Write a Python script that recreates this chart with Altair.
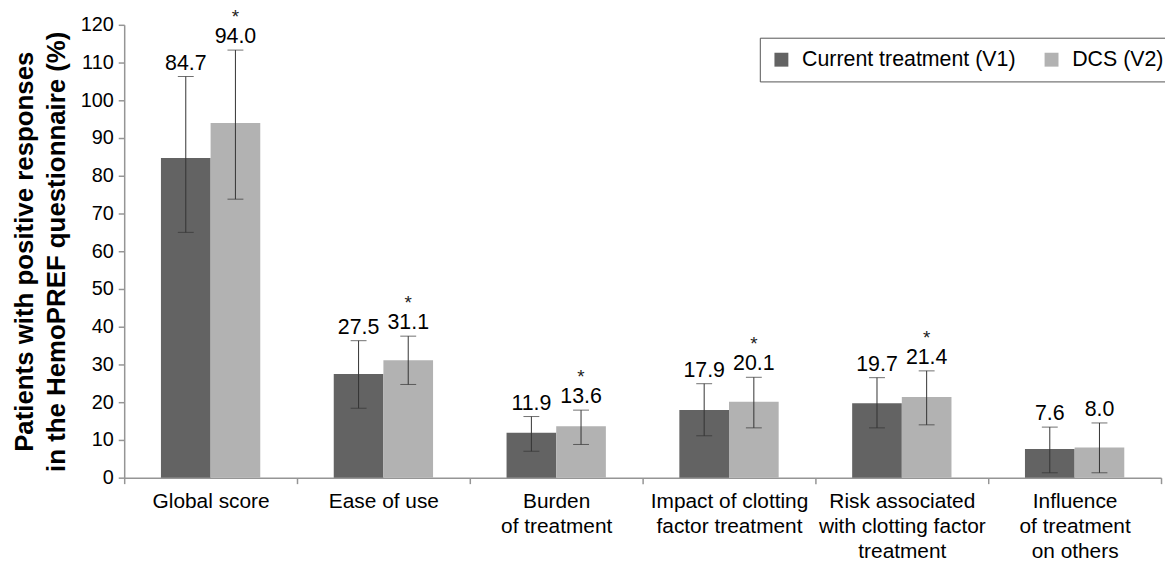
import altair as alt
import pandas as pd

categories = [
    "Global score",
    "Ease of use",
    "Burden|of treatment",
    "Impact of clotting|factor treatment",
    "Risk associated|with clotting factor|treatment",
    "Influence|of treatment|on others",
]
series = ["Current treatment (V1)", "DCS (V2)"]

v1_mean = [84.7, 27.5, 11.9, 17.9, 19.7, 7.6]
v1_low = [65.0, 18.4, 7.0, 11.1, 13.2, 1.3]
v1_high = [106.3, 36.3, 16.2, 24.9, 26.5, 13.4]

v2_mean = [94.0, 31.1, 13.6, 20.1, 21.4, 8.0]
v2_low = [73.8, 24.7, 8.8, 13.2, 14.0, 1.3]
v2_high = [113.3, 37.5, 17.9, 26.6, 28.3, 14.5]
v2_significant = [True, True, True, True, True, False]

y_ticks = list(range(0, 121, 10))

rows = []
for i, c in enumerate(categories):
    rows.append(dict(cat=c, series=series[0], mean=v1_mean[i], low=v1_low[i],
                     high=v1_high[i], star=""))
    rows.append(dict(cat=c, series=series[1], mean=v2_mean[i], low=v2_low[i],
                     high=v2_high[i], star="*" if v2_significant[i] else ""))
df = pd.DataFrame(rows)
df["label"] = df["mean"].map(lambda v: f"{v:.1f}")

FONT = "Liberation Sans"
AXIS_GREY = "#959595"
ERR = "#333333"

x = alt.X(
    "cat:N",
    sort=categories,
    scale=alt.Scale(paddingInner=0, paddingOuter=0),
    axis=alt.Axis(
        title=None, labelAngle=0, tickBand="extent",
        labelExpr="split(datum.label, '|')",
        labelFontSize=21, labelFont=FONT, labelColor="black",
        labelBaseline="top", labelPadding=7, labelLineHeight=25,
        labelLimit=300, tickSize=6, tickColor=AXIS_GREY,
        domainColor=AXIS_GREY, domainWidth=1.5, tickWidth=1.5,
    ),
)
xoff = alt.XOffset("series:N", sort=series,
                   scale=alt.Scale(paddingInner=0, paddingOuter=0.74))
y = alt.Y(
    "mean:Q",
    scale=alt.Scale(domain=[0, 120], nice=False),
    axis=alt.Axis(
        values=y_ticks, tickCount=13, labelOverlap=False, grid=False,
        title=["Patients with positive responses", "in the HemoPREF questionnaire (%)"],
        titleFontSize=26, titleFont=FONT, titleFontWeight="bold", titleColor="black",
        titleAngle=270, titleAlign="center", titleBaseline="alphabetic",
        titleX=-92, titleY=228, titleLineHeight=32,
        labelFontSize=20, labelFont=FONT, labelColor="black", labelPadding=5,
        tickSize=6, tickColor=AXIS_GREY, tickWidth=1.5,
        domainColor=AXIS_GREY, domainWidth=1.5,
    ),
)

base = alt.Chart(df)

bars = base.mark_bar().encode(
    x=x, xOffset=xoff, y=y,
    color=alt.Color(
        "series:N", sort=series,
        scale=alt.Scale(domain=series, range=["#636363", "#b2b2b2"]),
        legend=alt.Legend(
            title=None, orient="none", legendX=640, legendY=13,
            direction="horizontal", symbolType="square", symbolSize=196,
            symbolStrokeWidth=0, labelFontSize=21.5, labelFont=FONT,
            labelColor="black", labelLimit=300, strokeColor="#555555",
            fillColor="white", padding=11, columnPadding=25, labelOffset=10,
        ),
    ),
)

rules = base.mark_rule(color=ERR, strokeWidth=1).encode(
    x=x, xOffset=xoff, y=alt.Y("low:Q"), y2="high:Q"
)
cap_hi = base.mark_tick(color=ERR, thickness=1, size=16, orient="horizontal").encode(
    x=x, xOffset=xoff, y=alt.Y("high:Q")
)
cap_lo = base.mark_tick(color=ERR, thickness=1, size=16, orient="horizontal").encode(
    x=x, xOffset=xoff, y=alt.Y("low:Q")
)
labels = base.mark_text(dy=-7, baseline="alphabetic", fontSize=21.5, font=FONT,
                        color="black").encode(
    x=x, xOffset=xoff, y=alt.Y("high:Q"), text="label:N"
)
stars = base.mark_text(dy=-27, baseline="alphabetic", fontSize=19, font=FONT,
                       color="#222222").encode(
    x=x, xOffset=xoff, y=alt.Y("high:Q"), text="star:N"
)

chart = (
    alt.layer(bars, rules, cap_hi, cap_lo, labels, stars)
    .properties(
        width=1044, height=456,
        autosize=alt.AutoSizeParams(type="none"),
        padding={"left": 117, "right": 4, "top": 15, "bottom": 85},
    )
    .configure_view(stroke=None)
)

chart.save("out.html", embed_options={"renderer": "svg", "actions": False})
